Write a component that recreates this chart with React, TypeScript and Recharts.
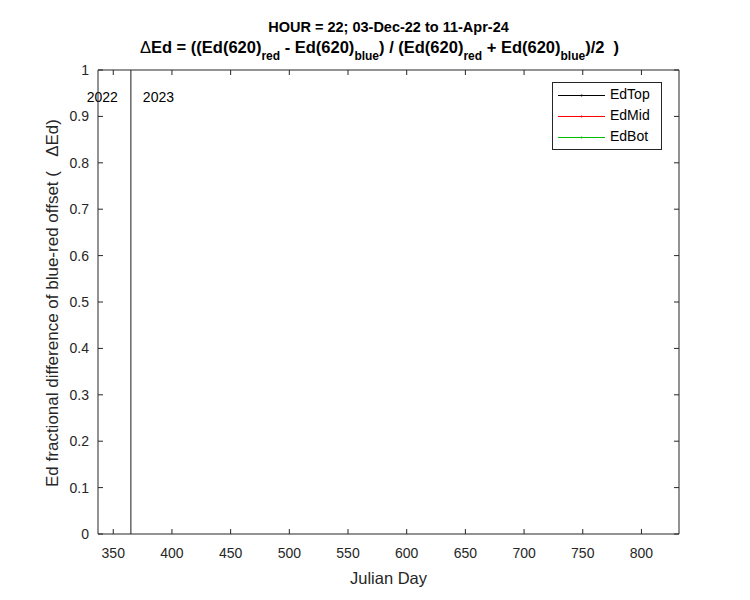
import { Legend, Line, LineChart, ReferenceLine, XAxis, YAxis } from "recharts";

// Julian day / Ed offset series (no samples recorded for HOUR = 22 in this window)
const julianDays: number[] = [];
const edTop: number[] = [];
const edMid: number[] = [];
const edBot: number[] = [];

const seriesNames = ["EdTop", "EdMid", "EdBot"];
const xDomain = [337, 832];
const xTicks = [350, 400, 450, 500, 550, 600, 650, 700, 750, 800];
const yTicks = [0, 0.1, 0.2, 0.3, 0.4, 0.5, 0.6, 0.7, 0.8, 0.9, 1];
const yearBoundary = 365;
const yearLabels = ["2022", "2023"];

const FONT = "'Liberation Sans', Arial, sans-serif";
const AXIS = "#262626";
const COLORS = ["#000000", "#ff0000", "#00c000"];
const TICK = 5;

const data = julianDays.map((day, i) => ({
  day,
  EdTop: edTop[i],
  EdMid: edMid[i],
  EdBot: edBot[i],
}));

// MATLAB-style ticks: marks point into the plot box
function BottomTick({ x, y, payload }: any) {
  return (
    <g>
      <line x1={x} x2={x} y1={y} y2={y - TICK} stroke={AXIS} />
      <text x={x} y={y + 24} textAnchor="middle" fill={AXIS} fontSize={14} fontFamily={FONT}>{payload.value}</text>
    </g>
  );
}

function TopTick({ x, y }: any) {
  return <line x1={x} x2={x} y1={y} y2={y + TICK} stroke={AXIS} />;
}

function LeftTick({ x, y, payload }: any) {
  return (
    <g>
      <line x1={x} x2={x + TICK} y1={y} y2={y} stroke={AXIS} />
      <text x={x - 9} y={y + 5} textAnchor="end" fill={AXIS} fontSize={14} fontFamily={FONT}>{payload.value}</text>
    </g>
  );
}

function RightTick({ x, y }: any) {
  return <line x1={x} x2={x - TICK} y1={y} y2={y} stroke={AXIS} />;
}

function YearLabels({ viewBox }: any) {
  const { x, y } = viewBox;
  return (
    <g fontFamily={FONT} fontSize={14} fill="#000">
      <text x={x - 13} y={y + 32} textAnchor="end">{yearLabels[0]}</text>
      <text x={x + 12} y={y + 32} textAnchor="start">{yearLabels[1]}</text>
    </g>
  );
}

function LegendBox({ payload }: any) {
  const items = [...(payload || [])].sort(
    (a: any, b: any) => seriesNames.indexOf(a.value) - seriesNames.indexOf(b.value)
  );
  return (
    <div style={{ border: `1px solid ${AXIS}`, background: "#fff", width: 108, padding: "1px 0 2px", fontFamily: FONT, fontSize: 14 }}>
      {items.map((p: any) => (
        <div key={p.value} style={{ display: "flex", alignItems: "center", height: 21 }}>
          <svg width={57} height={21} style={{ display: "block" }}>
            <line x1={5} x2={52} y1={11.5} y2={11.5} stroke={p.color} strokeWidth={1} />
            <circle cx={28.5} cy={11.5} r={1} fill={p.color} />
          </svg>
          <span style={{ color: "#000", lineHeight: "21px" }}>{p.value}</span>
        </div>
      ))}
    </div>
  );
}

export default function App() {
  return (
    <div style={{ position: "absolute", left: 0, top: 0, width: 750, height: 600, background: "#fff" }}>
      <LineChart width={750} height={600} data={data} margin={{ top: 69, right: 70, left: 38, bottom: 36 }}>
        <XAxis xAxisId="bottom" dataKey="day" type="number" domain={xDomain} ticks={xTicks} allowDataOverflow
          height={30} tickSize={0} tickMargin={0} tickLine={false} stroke={AXIS} tick={<BottomTick />} />
        <XAxis xAxisId="top" orientation="top" dataKey="day" type="number" domain={xDomain} ticks={xTicks} allowDataOverflow
          height={1} tickSize={0} tickMargin={0} tickLine={false} stroke={AXIS} tick={<TopTick />} />
        <YAxis yAxisId="left" type="number" domain={[0, 1]} ticks={yTicks} allowDataOverflow
          width={60} tickSize={0} tickMargin={0} tickLine={false} stroke={AXIS} tick={<LeftTick />} />
        <YAxis yAxisId="right" orientation="right" type="number" domain={[0, 1]} ticks={yTicks} allowDataOverflow
          width={1} tickSize={0} tickMargin={0} tickLine={false} stroke={AXIS} tick={<RightTick />} />
        <ReferenceLine xAxisId="bottom" yAxisId="left" x={yearBoundary} stroke="#404040" strokeWidth={1.2}
          label={<YearLabels />} />
        {seriesNames.map((name, i) => (
          <Line key={name} xAxisId="bottom" yAxisId="left" dataKey={name} name={name} stroke={COLORS[i]}
            strokeWidth={1} dot={{ r: 1, fill: COLORS[i], stroke: "none" }} isAnimationActive={false} />
        ))}
        <Legend layout="vertical" verticalAlign="middle" align="center" content={<LegendBox />}
          wrapperStyle={{ left: 552, top: 82, width: 110 }} />
      </LineChart>
      <svg width={750} height={600} style={{ position: "absolute", left: 0, top: 0, pointerEvents: "none" }}
        fontFamily={FONT}>
        <text x={388.5} y={32} textAnchor="middle" fontWeight="bold" fontSize={14.5} fill="#000">
          HOUR = 22; 03-Dec-22 to 11-Apr-24
        </text>
        <text x={379.5} y={53} textAnchor="middle" fontWeight="bold" fontSize={16.5} fill="#000" style={{ whiteSpace: "pre" }}>
          <tspan fontWeight="normal">Δ</tspan>
          <tspan>Ed = ((Ed(620)</tspan>
          <tspan dy={7} fontSize={12}>red</tspan>
          <tspan dy={-7}> - Ed(620)</tspan>
          <tspan dy={7} fontSize={12}>blue</tspan>
          <tspan dy={-7}>) / (Ed(620)</tspan>
          <tspan dy={7} fontSize={12}>red</tspan>
          <tspan dy={-7}> + Ed(620)</tspan>
          <tspan dy={7} fontSize={12}>blue</tspan>
          <tspan dy={-7}>)/2  )</tspan>
        </text>
        <text x={388.5} y={584} textAnchor="middle" fontSize={16.5} fill={AXIS}>Julian Day</text>
        <text transform="translate(58,303) rotate(-90)" textAnchor="middle" fontSize={17} fill={AXIS} style={{ whiteSpace: "pre" }}>
          Ed fractional difference of blue-red offset (   ΔEd)
        </text>
      </svg>
    </div>
  );
}
